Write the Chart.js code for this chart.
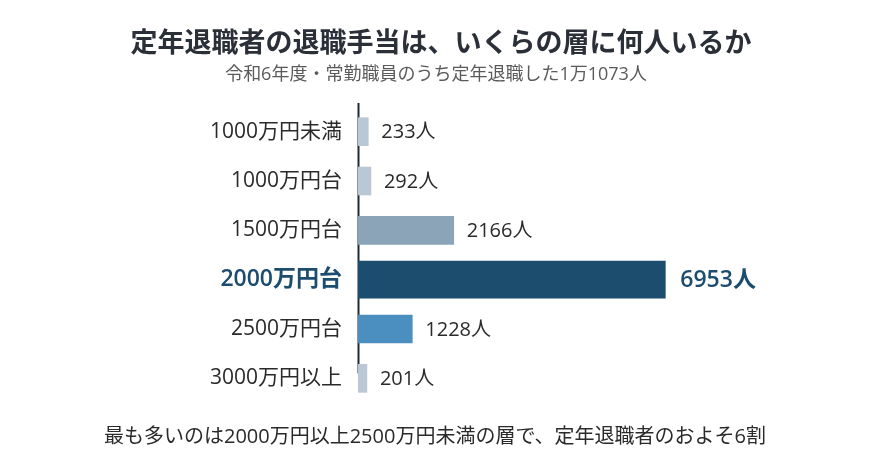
<!DOCTYPE html>
<html><head><meta charset="utf-8">
<script src="https://cdn.jsdelivr.net/npm/chart.js@4/dist/chart.umd.min.js"></script>
<style>html,body{margin:0;padding:0;background:#fff;}#wrap{width:870px;height:467px;position:relative;}</style>
</head><body><div id="wrap"><canvas id="c" width="870" height="467"></canvas></div>
<script>
const categories = ['1000万円未満','1000万円台','1500万円台','2000万円台','2500万円台','3000万円以上'];
const counts = [233, 292, 2166, 6953, 1228, 201];
const barColors = ['#b9c8d4','#b9c8d4','#8ba4b7','#1c4c6e','#4b8ec0','#b9c8d4'];
const highlightIndex = 3;
const titleText = '定年退職者の退職手当は、いくらの層に何人いるか';
const subtitleText = '令和6年度・常勤職員のうち定年退職した1万1073人';
const footerText = '最も多いのは2000万円以上2500万円未満の層で、定年退職者のおよそ6割';
const valueSuffix = '人';

const FONT = '"Open Sans","Noto Sans CJK JP",sans-serif';
const CJK = '"Noto Sans CJK JP","Noto Sans",sans-serif';
const normalData = counts.map((v,i)=> i===highlightIndex ? null : v);
const highData = counts.map((v,i)=> i===highlightIndex ? v : null);

const deco = {
  id:'deco',
  beforeDatasetsDraw(chart){
    const ctx = chart.ctx, a = chart.chartArea, y = chart.scales.y;
    ctx.save();
    ctx.strokeStyle = '#1e2a36'; ctx.lineWidth = 2;
    ctx.beginPath();
    ctx.moveTo(a.left+0.5, a.top-4);
    ctx.lineTo(a.left+0.5, y.getPixelForValue(5)-5);
    ctx.stroke();
    ctx.restore();
  },
  afterDatasetsDraw(chart){
    const ctx = chart.ctx;
    ctx.save();
    ctx.textBaseline = 'middle'; ctx.textAlign = 'left';
    chart.data.datasets.forEach((ds,di)=>{
      const meta = chart.getDatasetMeta(di);
      meta.data.forEach((el,i)=>{
        if (ds.data[i]==null) return;
        const hi = i===highlightIndex;
        ctx.font = (hi ? '600 23px ' : '20px ') + FONT;
        ctx.fillStyle = hi ? '#1c4c6e' : '#2a2a2a';
        ctx.fillText(counts[i] + valueSuffix, el.x + (hi?15:13), el.y+1);
      });
    });
    ctx.restore();
  },
  afterDraw(chart){
    const ctx = chart.ctx;
    ctx.save();
    ctx.textAlign='center'; ctx.textBaseline='middle';
    ctx.fillStyle='#2a2f38'; ctx.font='bold 27px '+CJK;
    ctx.fillText(titleText, 441, 42);
    ctx.fillStyle='#5a5a5a'; ctx.font='18px '+FONT;
    ctx.fillText(subtitleText, 436, 75);
    ctx.fillStyle='#2a2a2a'; ctx.font='20px '+FONT;
    ctx.fillText(footerText, 435, 437);
    ctx.restore();
  }
};

new Chart(document.getElementById('c'), {
  type:'bar',
  data:{
    labels: categories,
    datasets:[
      {data: normalData, backgroundColor: barColors, barThickness: 28, grouped:false, skipNull:true},
      {data: highData, backgroundColor: barColors, barThickness: 37, grouped:false, skipNull:true}
    ]
  },
  options:{
    indexAxis:'y',
    responsive:false,
    animation:false,
    layout:{padding:{top:107,bottom:64,left:0,right:70}},
    plugins:{legend:{display:false},tooltip:{enabled:false},title:{display:false}},
    scales:{
      x:{display:false,min:0,max:10000},
      y:{
        afterFit(s){ s.width = 358; },
        grid:{display:false, drawTicks:false},
        border:{display:false},
        ticks:{
          padding:16,
          color:(c)=> c.index===highlightIndex ? '#1c4c6e' : '#2a2a2a',
          font:(c)=> c.index===highlightIndex ? {family:FONT,size:23,weight:'600'} : {family:FONT,size:21}
        }
      }
    }
  },
  plugins:[deco]
});
</script></body></html>
